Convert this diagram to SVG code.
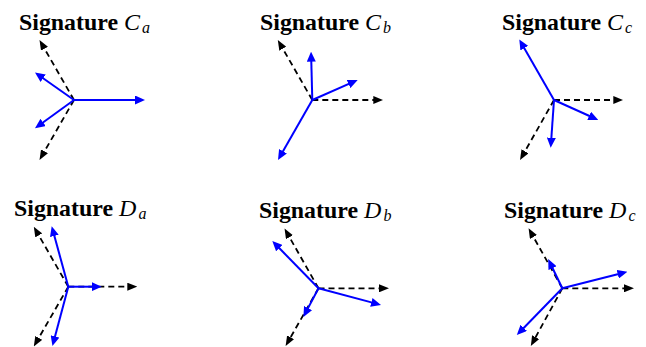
<svg xmlns="http://www.w3.org/2000/svg" width="646" height="347" viewBox="0 0 646 347">
<style>
.t{font-family:"Liberation Serif","DejaVu Serif",serif;font-weight:bold;font-size:23.5px;fill:#000}
.m{font-family:"Liberation Serif","DejaVu Serif",serif;font-style:italic;font-size:24px;fill:#000}
.s{font-family:"Liberation Serif","DejaVu Serif",serif;font-style:italic;font-size:16px;fill:#000}
.b{stroke:#0000ff;stroke-width:2;fill:none;marker-end:url(#hb)}
.d{stroke:#000;stroke-width:1.8;fill:none;stroke-dasharray:6 4;marker-end:url(#hk)}
</style>
<defs>
<marker id="hb" markerUnits="userSpaceOnUse" viewBox="0 0 10 9" markerWidth="10" markerHeight="9" refX="4" refY="4.5" orient="auto"><path d="M0,0 L10,4.5 L0,9 Z" fill="#0000ff"/></marker>
<marker id="hk" markerUnits="userSpaceOnUse" viewBox="0 0 10 8" markerWidth="10" markerHeight="8" refX="4" refY="4" orient="auto"><path d="M0,0 L10,4 L0,8 Z" fill="#000"/></marker>
</defs>
<rect width="646" height="347" fill="#fff"/>
<g id="panel-Ca">
<text class="t" x="19" y="30" textLength="99" lengthAdjust="spacingAndGlyphs">Signature</text>
<text class="m" x="124" y="30">C</text><text class="s" x="142" y="33">a</text>
<g class="connectors">
<line class="d" x1="74" y1="100" x2="42.5" y2="45.2"/>
<line class="d" x1="74" y1="100" x2="42.5" y2="154.8"/>
<line class="b" x1="74" y1="100" x2="139" y2="100"/>
<line class="b" x1="74" y1="100" x2="39.9" y2="76"/>
<line class="b" x1="74" y1="100" x2="39.85" y2="124.8"/>
</g>
</g>
<g id="panel-Cb">
<text class="t" x="260" y="30" textLength="99" lengthAdjust="spacingAndGlyphs">Signature</text>
<text class="m" x="365" y="30">C</text><text class="s" x="383" y="33">b</text>
<g class="connectors">
<line class="d" x1="312.3" y1="100" x2="377.3" y2="100"/>
<line class="d" x1="312.3" y1="100" x2="280.8" y2="45.2"/>
<line class="b" x1="312.3" y1="100" x2="311.2" y2="57.7"/>
<line class="b" x1="312.3" y1="100" x2="352.2" y2="82.4"/>
<line class="b" x1="312.3" y1="100" x2="281" y2="154.8"/>
</g>
</g>
<g id="panel-Cc">
<text class="t" x="502" y="30" textLength="99" lengthAdjust="spacingAndGlyphs">Signature</text>
<text class="m" x="607" y="30">C</text><text class="s" x="625" y="33">c</text>
<g class="connectors">
<line class="d" x1="554" y1="100" x2="617.3" y2="100"/>
<line class="d" x1="554" y1="100" x2="523" y2="154.8"/>
<line class="b" x1="554" y1="100" x2="522.3" y2="44.7"/>
<line class="b" x1="554" y1="100" x2="592.8" y2="117.5"/>
<line class="b" x1="554" y1="100" x2="551.1" y2="141.7"/>
</g>
</g>
<g id="panel-Da">
<text class="t" x="14" y="216" textLength="99" lengthAdjust="spacingAndGlyphs">Signature</text>
<text class="m" x="119" y="216">D</text><text class="s" x="138.5" y="219">a</text>
<g class="connectors">
<line class="d" x1="68.3" y1="286.7" x2="131.3" y2="286.7"/>
<line class="d" x1="68.3" y1="286.7" x2="36.8" y2="231.9"/>
<line class="d" x1="68.3" y1="286.7" x2="36.8" y2="341.3"/>
<line class="b" x1="68.3" y1="286.7" x2="53.3" y2="232"/>
<line class="b" x1="68.3" y1="286.7" x2="95.7" y2="286.7"/>
<line class="b" x1="68.3" y1="286.7" x2="54" y2="340.2"/>
</g>
</g>
<g id="panel-Db">
<text class="t" x="259" y="218" textLength="99" lengthAdjust="spacingAndGlyphs">Signature</text>
<text class="m" x="364" y="218">D</text><text class="s" x="383.5" y="221">b</text>
<g class="connectors">
<line class="d" x1="318.5" y1="288.3" x2="383" y2="288.3"/>
<line class="d" x1="318.5" y1="288.3" x2="287.5" y2="233.7"/>
<line class="d" x1="318.5" y1="288.3" x2="288.6" y2="340.8"/>
<line class="b" x1="318.5" y1="288.3" x2="276.5" y2="245.3"/>
<line class="b" x1="318.5" y1="288.3" x2="375.2" y2="303.4"/>
<line class="b" x1="318.5" y1="288.3" x2="306.2" y2="311.6"/>
</g>
</g>
<g id="panel-Dc">
<text class="t" x="504" y="218" textLength="99" lengthAdjust="spacingAndGlyphs">Signature</text>
<text class="m" x="609" y="218">D</text><text class="s" x="628.5" y="221">c</text>
<g class="connectors">
<line class="d" x1="562.3" y1="288.3" x2="628" y2="288.3"/>
<line class="d" x1="562.3" y1="288.3" x2="531.5" y2="233.5"/>
<line class="d" x1="562.3" y1="288.3" x2="533.7" y2="340.7"/>
<line class="b" x1="562.3" y1="288.3" x2="550.8" y2="264.5"/>
<line class="b" x1="562.3" y1="288.3" x2="621.6" y2="273.2"/>
<line class="b" x1="562.3" y1="288.3" x2="521" y2="330.7"/>
</g>
</g>
</svg>
